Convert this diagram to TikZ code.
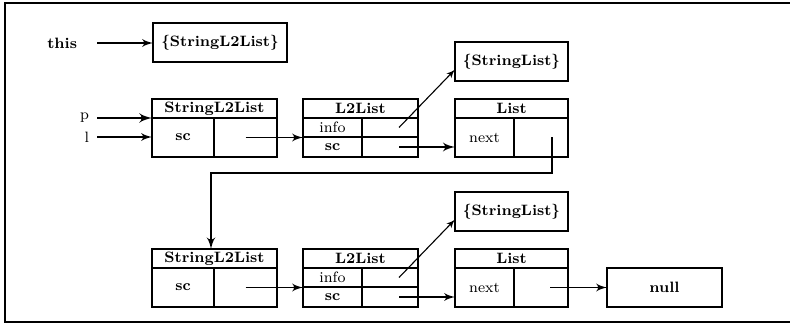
\documentclass[tikz,border=0pt]{standalone}
\usetikzlibrary{arrows}

\begin{document}
\begin{tikzpicture}[x=0.5pt,y=-0.5pt]
        \useasboundingbox (0,0) rectangle (790,325);

        % Styles:
        \tikzstyle{cell}=[draw, line width=1.3pt, inner sep=0pt, outer sep=0pt,
        anchor=north west, text centered, font=\fontsize{7.5}{8}\selectfont\bfseries]
        \tikzstyle{plain}=[font=\fontsize{7.5}{8}\selectfont]
        \tikzstyle{vartext}=[inner sep=0pt, anchor=east, font=\fontsize{7.5}{8}\selectfont]
        \tikzstyle{ptrline}=[draw, line width=0.9pt, -latex']
        \tikzstyle{infoptr}=[ptrline, line width=0.55pt]
        \tikzstyle{outerframe}=[draw, line width=1.1pt]

        \newcommand{\recbox}[5]{node (#1) [cell,minimum width=#2,minimum height=#3,#4] {#5}}

        \draw[outerframe] (5,3) rectangle (795,322);

        % this:
        \node[vartext, font=\fontsize{7.5}{8}\selectfont\bfseries, outer sep=10pt] (this) at (97,43) {this};
        \path (153,23) \recbox{tbox}{67pt}{19.5pt}{}{\{StringL2List\}};

        % First row:
        \path (152,99) \recbox{sa1h}{62.5pt}{9.5pt}{}{StringL2List};
        \path (sa1h.south west) \recbox{sa1l}{31pt}{19.5pt}{}{sc};
        \path (sa1l.north east) \recbox{sa1r}{31.5pt}{19.5pt}{}{};

        \path (303,99) \recbox{lb1h}{57.5pt}{9.5pt}{}{L2List};
        \path (lb1h.south west) \recbox{lb1il}{29.5pt}{9.5pt}{plain}{info};
        \path (lb1il.north east) \recbox{lb1ir}{28pt}{9.5pt}{}{};
        \path (lb1il.south west) \recbox{lb1sl}{29.5pt}{10pt}{}{sc};
        \path (lb1sl.north east) \recbox{lb1sr}{28pt}{10pt}{}{};

        \path (455,42) \recbox{sl1}{56.5pt}{19.5pt}{}{\{StringList\}};
        \path (455,99) \recbox{li1h}{56.5pt}{9.5pt}{}{List};
        \path (li1h.south west) \recbox{li1l}{29.5pt}{19.5pt}{plain}{next};
        \path (li1l.north east) \recbox{li1r}{27pt}{19.5pt}{}{};

        % Second row:
        \path (152,249) \recbox{sa2h}{62.5pt}{9.5pt}{}{StringL2List};
        \path (sa2h.south west) \recbox{sa2l}{31pt}{19.5pt}{}{sc};
        \path (sa2l.north east) \recbox{sa2r}{31.5pt}{19.5pt}{}{};

        \path (303,249) \recbox{lb2h}{57.5pt}{9.5pt}{}{L2List};
        \path (lb2h.south west) \recbox{lb2il}{29.5pt}{9.5pt}{plain}{info};
        \path (lb2il.north east) \recbox{lb2ir}{28pt}{9.5pt}{}{};
        \path (lb2il.south west) \recbox{lb2sl}{29.5pt}{10pt}{}{sc};
        \path (lb2sl.north east) \recbox{lb2sr}{28pt}{10pt}{}{};

        \path (455,192) \recbox{sl2}{56.5pt}{19.5pt}{}{\{StringList\}};
        \path (455,249) \recbox{li2h}{56.5pt}{9.5pt}{}{List};
        \path (li2h.south west) \recbox{li2l}{29.5pt}{19.5pt}{plain}{next};
        \path (li2l.north east) \recbox{li2r}{27pt}{19.5pt}{}{};

        \path (607,268) \recbox{nullbox}{57.5pt}{19.5pt}{}{null};

        % Variables:
        \node[vartext, outer sep=4pt] (p) at (97,118) {p};
        \node[vartext, outer sep=4pt] (l) at (97,137) {l};

        % Arrows:
        \path [ptrline] (this.east) -- (this.east -| tbox.west);
        \path [ptrline, line width=1.2pt] (p.east) -- (sa1h.south west);
        \path [ptrline] (l.east) -- (l.east -| sa1l.west);

        \path [ptrline] (sa1r.center) -- (sa1r.center -| lb1il.south west);
        \path [infoptr] ([xshift=4.5pt]lb1ir.center) -- ([yshift=-4pt]sl1.west);
        \path [ptrline, line width=1.1pt] ([xshift=4.5pt]lb1sr.center) -- (li1l.west |- lb1sr.center);
        \path [ptrline, line width=1pt] ([xshift=5.5pt]li1r.center) -- ++(0,36) -| ([xshift=-1.75pt]sa2h.north);

        \path [ptrline] (sa2r.center) -- (sa2r.center -| lb2il.south west);
        \path [infoptr] ([xshift=4.5pt]lb2ir.center) -- ([yshift=-4pt]sl2.west);
        \path [ptrline] ([xshift=4.5pt]lb2sr.center) -- (li2l.west |- lb2sr.center);
        \path [ptrline] ([xshift=4.5pt]li2r.center) -- (nullbox.west);
\end{tikzpicture}
\end{document}
